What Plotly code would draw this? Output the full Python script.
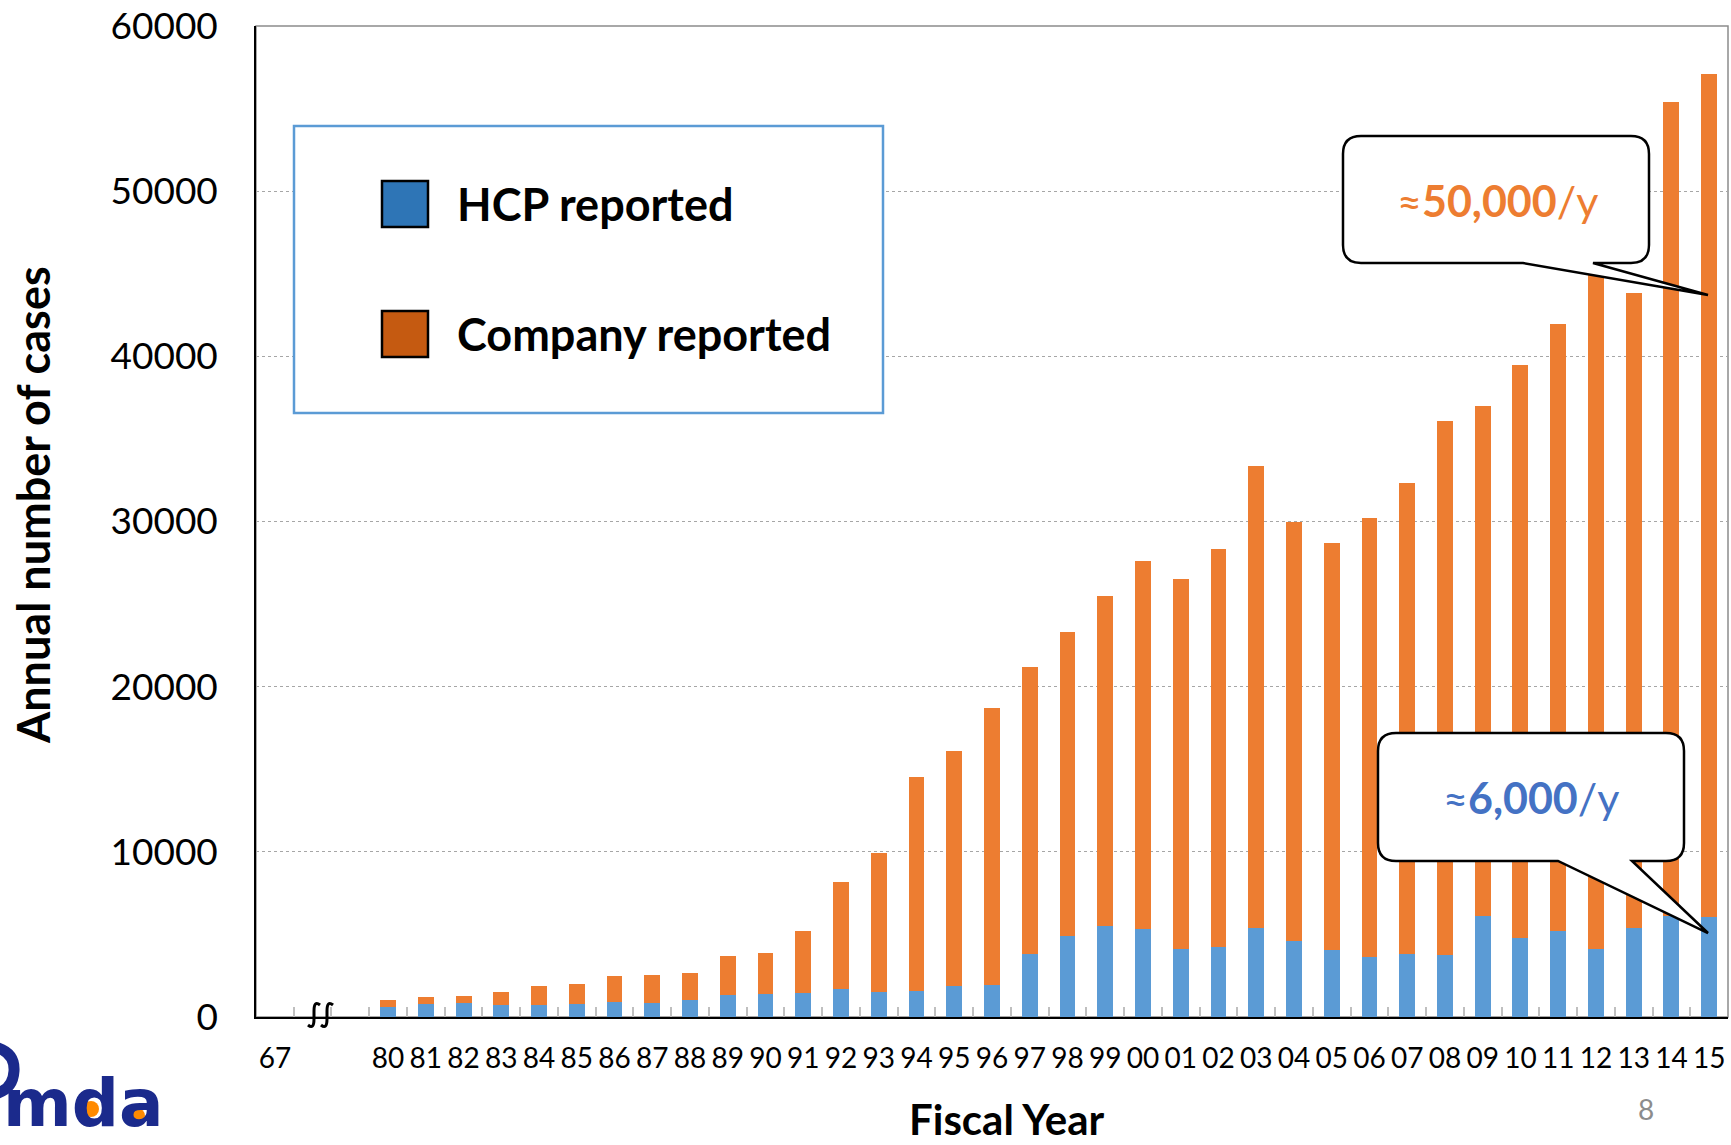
import plotly.graph_objects as go

# Fiscal years (two blank slots hold the axis break between 67 and 80)
years = ["67", " ", "  ",
         "80", "81", "82", "83", "84", "85", "86", "87", "88", "89",
         "90", "91", "92", "93", "94", "95", "96", "97", "98", "99",
         "00", "01", "02", "03", "04", "05", "06", "07", "08", "09",
         "10", "11", "12", "13", "14", "15"]

# Reports from health-care professionals
hcp = [None, None, None,
       625, 807, 827, 746, 746, 787, 908, 847, 1008, 1330,
       1390, 1450, 1670, 1510, 1590, 1860, 1940, 3800, 4880, 5480,
       5340, 4140, 4210, 5410, 4610, 4070, 3610, 3830, 3750, 6110,
       4760, 5180, 4090, 5380, 6110, 6050]

# Reports from companies
company = [None, None, None,
           425, 403, 463, 764, 1114, 1193, 1552, 1673, 1672, 2340,
           2480, 3760, 6480, 8390, 12950, 14230, 16750, 17390, 18430, 20030,
           22250, 22360, 24140, 27960, 25380, 24630, 26580, 28500, 32320, 30900,
           34720, 36770, 41310, 38440, 49270, 51060]

y_ticks = [0, 10000, 20000, 30000, 40000, 50000, 60000]

W, H = 1731, 1145
ML, MR, MT, MB = 256, 3, 26, 128
PW, PH = W - ML - MR, H - MT - MB

BLUE = "#5B9BD5"
ORANGE = "#ED7D31"
FONT = "Lato"


def px(x):
    return (x - ML) / PW


def py(y):
    return (H - MB - y) / PH


def pt(x, y):
    return f"{px(x):.5f},{py(y):.5f}"


def callout_path(left, top, right, bottom, r, base_l, base_r, apex):
    ax, ay = apex
    return (
        f"M {pt(left + r, top)} L {pt(right - r, top)} "
        f"Q {pt(right, top)} {pt(right, top + r)} "
        f"L {pt(right, bottom - r)} Q {pt(right, bottom)} {pt(right - r, bottom)} "
        f"L {pt(base_r, bottom)} L {pt(ax, ay)} L {pt(base_l, bottom)} "
        f"L {pt(left + r, bottom)} Q {pt(left, bottom)} {pt(left, bottom - r)} "
        f"L {pt(left, top + r)} Q {pt(left, top)} {pt(left + r, top)} Z"
    )


def break_path(cx, cy):
    return (f"M {pt(cx + 6, cy - 10)} Q {pt(cx, cy - 15)} {pt(cx, cy - 4)} "
            f"L {pt(cx, cy + 4)} Q {pt(cx, cy + 15)} {pt(cx - 6, cy + 10)}")


fig = go.Figure()
fig.add_trace(go.Bar(x=years, y=hcp, name="HCP reported",
                     marker=dict(color=BLUE, line=dict(width=0))))
fig.add_trace(go.Bar(x=years, y=company, name="Company reported",
                     marker=dict(color=ORANGE, line=dict(width=0))))

shapes = []
# plot frame (top/right light)
shapes.append(dict(type="rect", xref="paper", yref="paper", x0=0, y0=0, x1=1, y1=1,
                   line=dict(color="#8c8c8c", width=1.5), layer="below"))

# legend box
shapes.append(dict(type="rect", xref="paper", yref="paper",
                   x0=px(294), y0=py(413), x1=px(883), y1=py(126),
                   line=dict(color=BLUE, width=2.5), fillcolor="white"))
shapes.append(dict(type="rect", xref="paper", yref="paper",
                   x0=px(382), y0=py(227), x1=px(428), y1=py(181),
                   line=dict(color="black", width=2.5), fillcolor="#2E75B6"))
shapes.append(dict(type="rect", xref="paper", yref="paper",
                   x0=px(382), y0=py(357), x1=px(428), y1=py(311),
                   line=dict(color="black", width=2.5), fillcolor="#C55A11"))

# callouts
shapes.append(dict(type="path", xref="paper", yref="paper",
                   path=callout_path(1343, 136, 1649, 263, 18, 1523, 1593, (1708, 295)),
                   line=dict(color="black", width=2.5), fillcolor="white"))
shapes.append(dict(type="path", xref="paper", yref="paper",
                   path=callout_path(1378, 733, 1684, 861, 18, 1558, 1632, (1708, 933)),
                   line=dict(color="black", width=2.5), fillcolor="white"))

# axis break marks
for cx in (314, 327):
    shapes.append(dict(type="path", xref="paper", yref="paper",
                       path=break_path(cx, 1015), line=dict(color="black", width=3)))

# logo pieces
LOGO_NAVY = "#1B2A8C"
shapes.append(dict(type="path", xref="paper", yref="paper",
                   path=f"M {pt(-2, 1048)} Q {pt(15, 1054)} {pt(14, 1071)} Q {pt(13, 1088)} {pt(-2, 1093)}",
                   line=dict(color=LOGO_NAVY, width=11)))
for cx, cy in ((91, 1109), (137, 1116)):
    shapes.append(dict(type="circle", xref="paper", yref="paper",
                       x0=px(cx - 8), x1=px(cx + 8), y0=py(cy + 8), y1=py(cy - 8),
                       line=dict(width=0), fillcolor="#FF8A00"))

annotations = [
    dict(text="<b>HCP reported</b>", x=px(455), y=py(204), xanchor="left", yanchor="middle",
         font=dict(family=FONT, size=45, color="black")),
    dict(text="<b>Company reported</b>", x=px(455), y=py(334), xanchor="left", yanchor="middle",
         font=dict(family=FONT, size=45, color="black")),
    dict(text="≈<b>50,000</b>/y", x=px(1497), y=py(200), xanchor="center", yanchor="middle",
         font=dict(family=FONT, size=43, color=ORANGE)),
    dict(text="≈<b>6,000</b>/y", x=px(1531), y=py(797), xanchor="center", yanchor="middle",
         font=dict(family=FONT, size=43, color="#4472C4")),
    dict(text="<b>Annual number of cases</b>", x=px(33), y=py(505), textangle=-90,
         xanchor="center", yanchor="middle",
         font=dict(family=FONT, size=45, color="black")),
    dict(text="<b>Fiscal Year</b>", x=px(1007), y=py(1119), xanchor="center", yanchor="middle",
         font=dict(family=FONT, size=42, color="black")),
    dict(text="8", x=px(1646), y=py(1109), xanchor="center", yanchor="middle",
         font=dict(family=FONT, size=28, color="#8c8c8c")),
    dict(text="<b>mda</b>", x=px(1), y=py(1144), xanchor="left", yanchor="bottom",
         font=dict(family="DejaVu Sans", size=66, color=LOGO_NAVY)),
]
for a in annotations:
    a.update(xref="paper", yref="paper", showarrow=False)

fig.update_layout(
    width=W, height=H,
    margin=dict(l=ML, r=MR, t=MT, b=MB),
    paper_bgcolor="white", plot_bgcolor="white",
    barmode="stack", bargap=0.58,
    showlegend=False,
    shapes=shapes, annotations=annotations,
    font=dict(family=FONT, color="black"),
)
fig.update_xaxes(
    type="category", categoryorder="array", categoryarray=years,
    tickangle=0, tickfont=dict(family=FONT, size=28, color="black"),
    ticks="inside", tickson="boundaries", ticklen=10, tickcolor="#bfbfbf", tickwidth=1.5,
    showline=True, linecolor="black", linewidth=2,
    ticklabelstandoff=15, showgrid=False, fixedrange=True,
)
fig.update_yaxes(
    range=[0, 60000], tickvals=y_ticks, ticktext=[str(v) for v in y_ticks],
    tickfont=dict(family=FONT, size=37, color="black"),
    showline=True, linecolor="black", linewidth=1.5,
    showgrid=True, gridcolor="#a6a6a6", gridwidth=1, griddash="dot",
    zeroline=False, ticks="", ticklabelstandoff=29, fixedrange=True,
)

fig.write_html("out.html", config={"displayModeBar": False})
